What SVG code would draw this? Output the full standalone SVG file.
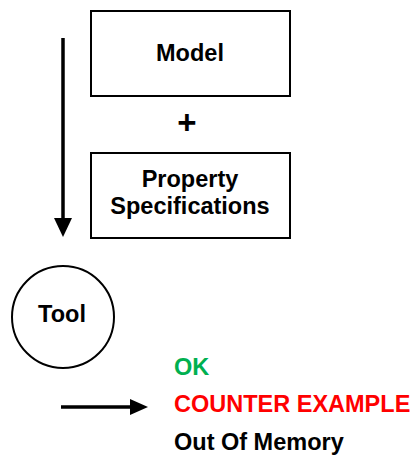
<svg xmlns="http://www.w3.org/2000/svg" width="416" height="456" viewBox="0 0 416 456">
<style>
.box{fill:#fff;stroke:#000;stroke-width:2}
.t{font-family:"Liberation Sans",Arial,sans-serif;font-weight:bold;font-size:23.5px;fill:#000}
.c{text-anchor:middle}
.ln{stroke:#000;stroke-width:3.5;fill:none}
</style>
<rect width="416" height="456" fill="#fff"/>
<g id="connectors">
<line class="ln" x1="63" y1="38" x2="63" y2="220"/>
<polygon points="54,218 72,218 63,237" fill="#000"/>
<line class="ln" x1="61" y1="407" x2="132" y2="407"/>
<polygon points="130,399 130,415 148,407" fill="#000"/>
</g>
<g id="model">
<rect class="box" x="91" y="11" width="199" height="85"/>
<text class="t c" x="190" y="61">Model</text>
</g>
<g id="plus">
<text class="t c" x="187" y="134" style="font-size:33px">+</text>
</g>
<g id="property">
<rect class="box" x="91" y="153" width="199" height="85"/>
<text class="t c" x="190" y="187">Property</text>
<text class="t c" x="190" y="214">Specifications</text>
</g>
<g id="tool">
<circle cx="63" cy="317" r="51" fill="#fff" stroke="#000" stroke-width="2"/>
<text class="t c" x="62" y="322">Tool</text>
</g>
<g id="results">
<text class="t" x="174" y="375" style="fill:#00b050">OK</text>
<text class="t" x="174" y="412" style="fill:#ff0000">COUNTER EXAMPLE</text>
<text class="t" x="174" y="450">Out Of Memory</text>
</g>
</svg>
